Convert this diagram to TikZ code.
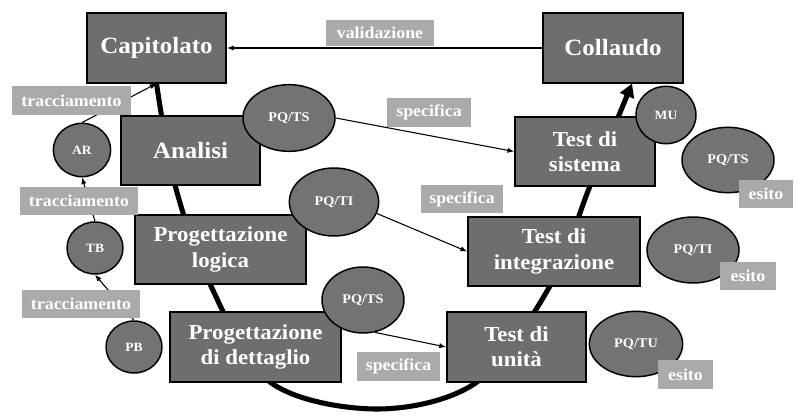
\documentclass[tikz,border=0pt]{standalone}
\usepackage{fontspec}
\setmainfont{Liberation Serif}[FakeStretch=1.07]
\usetikzlibrary{arrows.meta,shapes.geometric,backgrounds,calc}
\definecolor{boxgray}{HTML}{6E6E6E}
\definecolor{ellgray}{HTML}{737373}
\definecolor{labgray}{HTML}{AAAAAA}
\tikzset{
  stagebox/.style={draw=black,line width=1.3pt,fill=boxgray,text=white,font=\bfseries\fontsize{16}{19}\selectfont,align=center,inner sep=0pt,minimum height=52pt},
  bigtext/.style={font=\bfseries\fontsize{17.5}{20}\selectfont},
  docell/.style={ellipse,draw=black,line width=1.1pt,fill=ellgray,text=white,font=\bfseries\fontsize{10}{12}\selectfont,inner sep=0pt},
  smallell/.style={docell,font=\bfseries\fontsize{9.5}{11}\selectfont},
  lab/.style={fill=labgray,text=white,font=\bfseries\fontsize{12.5}{14}\selectfont,inner sep=0pt,minimum height=21pt},
  thinarrow/.style={draw=black,line width=0.8pt,-{Latex[length=5pt,width=4pt]}},
  bigflow/.style={draw=black,line width=3.8pt,-{Triangle[length=10pt,width=11pt]}}
}
\begin{document}
\begin{tikzpicture}[x=0.75pt,y=-0.75pt]
\useasboundingbox (0,0) rectangle (803,416);
% stage boxes
\node[stagebox,bigtext,minimum width=104.5pt] (cap) at (156.5,48) {Capitolato};
\node[stagebox,bigtext,minimum width=105pt] (coll) at (613,48) {Collaudo};
\node[stagebox,bigtext,minimum width=104.5pt] (ana) at (190.5,150.5) {Analisi};
\node[stagebox,minimum width=105pt] (ts) at (585,151.5) {Test di\\sistema};
\node[stagebox,minimum width=128.5pt] (pl) at (220.5,249.5) {Progettazione\\logica};
\node[stagebox,minimum width=129pt] (ti) at (554,251.5) {Test di\\integrazione};
\node[stagebox,minimum width=128.5pt] (pd) at (255.5,347) {Progettazione\\di dettaglio};
\node[stagebox,minimum width=104.5pt] (tu) at (516.5,347) {Test di\\unità};
% documents
\node[docell,minimum width=69pt,minimum height=50pt] (pqtsA) at (289,118) {PQ/TS};
\node[docell,minimum width=67pt,minimum height=51pt] (pqtiA) at (334,202) {PQ/TI};
\node[docell,minimum width=61.5pt,minimum height=49.5pt] (pqtsB) at (363,300) {PQ/TS};
\node[smallell,minimum width=43pt,minimum height=40pt] (ar) at (82,150) {AR};
\node[smallell,minimum width=42pt,minimum height=39pt] (tb) at (95,248) {TB};
\node[smallell,minimum width=42pt,minimum height=39pt] (pb) at (134,347) {PB};
\node[smallell,minimum width=45pt,minimum height=43pt] (mu) at (666,115) {MU};
\node[docell,minimum width=69pt,minimum height=49pt] (pqtsC) at (728,160) {PQ/TS};
\node[docell,minimum width=69pt,minimum height=49.5pt] (pqtiB) at (693,250) {PQ/TI};
\node[docell,minimum width=70pt,minimum height=49pt] (pqtu) at (636,344) {PQ/TU};
% flow curve and thin arrows behind
\begin{pgfonlayer}{background}
\coordinate (flowend) at ($(coll.south)+(19,0)$);
\draw[bigflow] plot[smooth,tension=0.55] coordinates {(cap.south) (175,185) (210,284) (270,382) (377,409) (477,382) (550,286) (590,186) (flowend)};
\draw[thinarrow] (coll) -- (cap);
\draw[thinarrow] (ar.north) -- (cap.south);
\draw[thinarrow] (tb.north) -- (ar.south);
\draw[thinarrow] (pb.north) -- (tb.south);
\draw[thinarrow] (pqtsA.east) -- (ts.west);
\draw[thinarrow] (pqtiA.-15) -- (ti.west);
\draw[thinarrow] (pqtsB.-70) -- (tu.west);
\end{pgfonlayer}
% labels
\node[lab,minimum width=81pt,minimum height=20pt] (lval) at (380,33) {validazione};
\node[lab,minimum width=89pt,minimum height=22pt] (ltrA) at (71.5,100.5) {tracciamento};
\node[lab,minimum width=88.5pt] (ltrB) at (79,201) {tracciamento};
\node[lab,minimum width=88.5pt] (ltrC) at (81,304) {tracciamento};
\node[lab,minimum width=63pt,minimum height=22pt] (lspA) at (429,112.5) {specifica};
\node[lab,minimum width=61.5pt] (lspB) at (462,199) {specifica};
\node[lab,minimum width=62pt,minimum height=22pt] (lspC) at (398.5,366.5) {specifica};
\node[lab,minimum width=40.5pt] (lesA) at (766,194) {esito};
\node[lab,minimum width=42pt] (lesB) at (748,276) {esito};
\node[lab,minimum width=41pt,minimum height=22pt] (lesC) at (685.5,374.5) {esito};
\end{tikzpicture}
\end{document}
